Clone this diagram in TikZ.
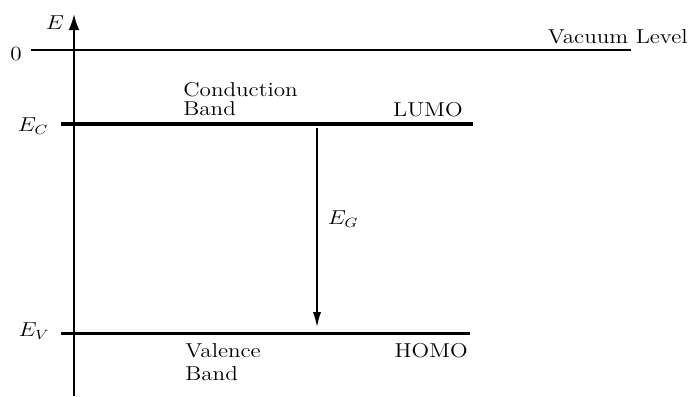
\documentclass[tikz,border=0pt]{standalone}
\usepackage{amsmath}
\usepackage{tikz}
\usetikzlibrary{arrows.meta,positioning}

\begin{document}
\begin{tikzpicture}[x=0.021cm,y=-0.021cm,
    lbl/.style={inner sep=0pt,xscale=1.15,font=\large},
    level/.style={line width=1.8pt},
    axisline/.style={line width=1.2pt}
  ]
    \useasboundingbox (0,0) rectangle (690,396);
    % energy axis
    \coordinate (ebot) at (74,396);
    \coordinate (etop) at (74,14);
    \draw[axisline,-{Latex[length=0.34cm,width=0.23cm]}] (ebot) -- (etop);
    \node[lbl,anchor=base] (elab) at (55,29) {$E$};
    % vacuum level
    \coordinate (vacl) at (31,50);
    \coordinate (vacr) at (631,50);
    \draw[line width=1.1pt] (vacl) -- (vacr);
    \node[lbl,anchor=base] (zero) at (16,60) {$0$};
    \node[lbl,anchor=base east] (vac) at (688,43) {Vacuum Level};
    % conduction band / LUMO
    \coordinate (ecl) at (61,124);
    \coordinate (ecr) at (473,124);
    \draw[level] (ecl) -- (ecr);
    \node[lbl,anchor=base] (eclab) at (33,131) {$E_C$};
    \node[lbl,anchor=base west] (cond) at (183,96) {Conduction};
    \node[lbl,anchor=base west] (condb) at (183,115) {Band};
    \node[lbl,anchor=base east] (lumo) at (463,116) {LUMO};
    % valence band / HOMO
    \coordinate (evl) at (61,333);
    \coordinate (evr) at (470,333);
    \draw[level] (evl) -- (evr);
    \node[lbl,anchor=base] (evlab) at (34,336) {$E_V$};
    \node[lbl,anchor=base west] (val) at (185,357) {Valence};
    \node[lbl,anchor=base west] (valb) at (185,380) {Band};
    \node[lbl,anchor=base east] (homo) at (468,357) {HOMO};
    % band gap
    \coordinate (gtop) at (317,128);
    \coordinate (gbot) at (317,327);
    \draw[line width=0.9pt,-{Latex[length=0.31cm,width=0.17cm]}] (gtop) -- (gbot);
    \node[lbl,anchor=base] (eglab) at (343,224) {$E_G$};
  \end{tikzpicture}
\end{document}
